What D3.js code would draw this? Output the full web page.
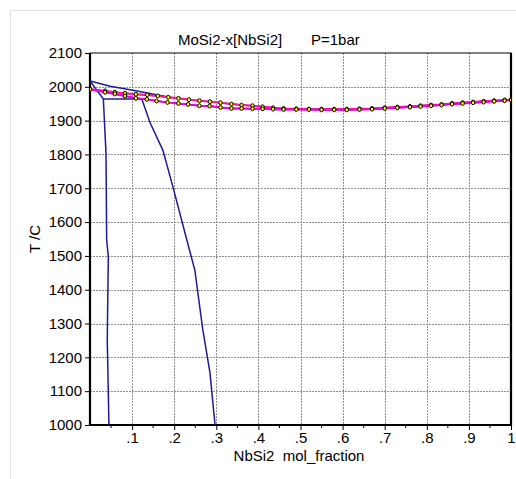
<!DOCTYPE html>
<html>
<head>
<meta charset="utf-8">
<script src="https://cdn.jsdelivr.net/npm/d3@7"></script>
<style>
  body { margin: 0; background: #fff; }
  text { font-family: "Liberation Sans", Arial, sans-serif; fill: #000; }
</style>
</head>
<body>
<div id="chart"></div>
<script>
const CHART = {
    W: 516,
    H: 479,
    LEFT: 90,
    TOP: 53,
    RIGHT: 511,
    BOTTOM: 425,
    FONT: 15
};

// axis ticks
const X_TICKS = [0.1, 0.2, 0.3, 0.4, 0.5, 0.6, 0.7, 0.8, 0.9, 1];
const X_TICK_LABELS = [".1", ".2", ".3", ".4", ".5", ".6", ".7", ".8", ".9", "1"];
const Y_TICKS = [1000, 1100, 1200, 1300, 1400, 1500, 1600, 1700, 1800, 1900, 2000, 2100];

// liquidus (upper) with markers
const LIQ_X = [0, 0.036, 0.059, 0.083, 0.109, 0.136, 0.161, 0.186, 0.21, 0.235, 0.26, 0.285, 0.31, 0.336, 0.36, 0.386, 0.41, 0.435, 0.46, 0.49, 0.52, 0.55, 0.58, 0.61, 0.64, 0.67, 0.70, 0.73, 0.76, 0.785, 0.81, 0.835, 0.86, 0.885, 0.91, 0.935, 0.96, 0.985, 1.0];
const LIQ_T = [1993, 1988, 1984, 1981, 1978, 1976, 1973, 1969, 1966, 1962, 1959, 1956, 1953, 1949, 1946, 1944, 1941, 1938, 1936, 1935, 1934, 1934, 1934, 1934, 1935, 1936, 1938, 1940, 1942, 1944, 1946, 1948, 1951, 1953, 1955, 1957, 1959, 1961, 1962];

// solidus (lower) with markers
const SOL_X = [0, 0.036, 0.059, 0.083, 0.109, 0.135, 0.158, 0.184, 0.21, 0.233, 0.26, 0.284, 0.31, 0.336, 0.36, 0.386, 0.41, 0.435, 0.46, 0.49, 0.52, 0.55, 0.58, 0.61, 0.64, 0.67, 0.70, 0.73, 0.76, 0.785, 0.81, 0.835, 0.86, 0.885, 0.91, 0.935, 0.96, 0.985, 1.0];
const SOL_T = [1993, 1984, 1979, 1973, 1966, 1963, 1958, 1954, 1951, 1948, 1944, 1943, 1939, 1936, 1936, 1935, 1935, 1934, 1933, 1933, 1933, 1932, 1932, 1932, 1933, 1934, 1936, 1938, 1940, 1942, 1944, 1946, 1949, 1951, 1953, 1955, 1957, 1959, 1961];

// blue phase boundaries
const TOP_X = [0, 0.048, 0.102, 0.186];
const TOP_T = [2017, 2002, 1990, 1970];
const LEFT_X = [0, 0.0317, 0.038, 0.0396, 0.0435, 0.041, 0.045];
const LEFT_T = [2017, 1964, 1804, 1547, 1498, 1251, 1000];
const THREE_X = [0.0317, 0.123];
const THREE_T = [1964, 1964];
const RIGHT_X = [0.123, 0.143, 0.173, 0.197, 0.230, 0.249, 0.268, 0.285, 0.297];
const RIGHT_T = [1964, 1893, 1813, 1704, 1547, 1458, 1281, 1154, 1000];

/* ---------------------------------- */
var xScale = d3.scaleLinear().domain([0, 1]).range([CHART.LEFT, CHART.RIGHT]);
var yScale = d3.scaleLinear().domain([1000, 2100]).range([CHART.BOTTOM, CHART.TOP]);

var zip = function(xs, ts){
    return xs.map((x, i) => [x, ts[i]]);
};

var line = d3.line()
             .x((d) => xScale(d[0]))
             .y((d) => yScale(d[1]));

var svg = d3.select("#chart").append("svg")
            .attr("width", CHART.W)
            .attr("height", CHART.H);

// light outer frame
svg.append("path")
   .attr("d", "M10.5," + CHART.H + "V10.5H" + CHART.W)
   .attr("fill", "none")
   .attr("stroke", "#e2e2e2")
   .attr("stroke-width", 1);

// grid
svg.append("g")
   .selectAll("line")
   .data(X_TICKS.slice(0, -1))
   .enter()
   .append("line")
   .attr("x1", (d) => Math.round(xScale(d)) + 0.5)
   .attr("x2", (d) => Math.round(xScale(d)) + 0.5)
   .attr("y1", CHART.TOP)
   .attr("y2", CHART.BOTTOM)
   .attr("stroke", "#909090")
   .attr("stroke-dasharray", "2,1");
svg.append("g")
   .selectAll("line")
   .data(Y_TICKS.slice(1, -1))
   .enter()
   .append("line")
   .attr("x1", CHART.LEFT)
   .attr("x2", CHART.RIGHT)
   .attr("y1", (d) => Math.round(yScale(d)) + 0.5)
   .attr("y2", (d) => Math.round(yScale(d)) + 0.5)
   .attr("stroke", "#909090")
   .attr("stroke-dasharray", "2,1");

// axes
var xAxis = d3.axisBottom(xScale)
              .tickValues(X_TICKS)
              .tickFormat((d, i) => X_TICK_LABELS[i])
              .tickSize(5)
              .tickSizeOuter(0);
var gx = svg.append("g")
            .attr("transform", "translate(0," + CHART.BOTTOM + ")")
            .call(xAxis);
gx.select(".domain").remove();
gx.selectAll("text").attr("font-size", CHART.FONT).attr("font-family", null).attr("y", 7);

// minor x ticks
svg.append("g")
   .selectAll("line")
   .data(X_TICKS.map((d) => d - 0.05))
   .enter()
   .append("line")
   .attr("x1", (d) => xScale(d))
   .attr("x2", (d) => xScale(d))
   .attr("y1", CHART.BOTTOM)
   .attr("y2", CHART.BOTTOM + 3)
   .attr("stroke", "#000");

var yAxis = d3.axisLeft(yScale)
              .tickValues(Y_TICKS)
              .tickFormat(d3.format("d"))
              .tickSize(5)
              .tickSizeOuter(0);
var gy = svg.append("g")
            .attr("transform", "translate(" + CHART.LEFT + ",0)")
            .call(yAxis);
gy.select(".domain").remove();
gy.selectAll("text").attr("font-size", CHART.FONT).attr("font-family", null).attr("x", -8);

// plot border
svg.append("rect")
   .attr("x", CHART.LEFT)
   .attr("y", CHART.TOP)
   .attr("width", CHART.RIGHT - CHART.LEFT)
   .attr("height", CHART.BOTTOM - CHART.TOP)
   .attr("fill", "none")
   .attr("stroke", "#000")
   .attr("stroke-width", 1);
svg.append("path")
   .attr("d", "M" + CHART.LEFT + "," + CHART.TOP + "V" + CHART.BOTTOM + "H" + CHART.RIGHT + "V" + CHART.TOP)
   .attr("fill", "none")
   .attr("stroke", "#000")
   .attr("stroke-width", 2.2);

// blue boundaries
svg.append("clipPath").attr("id", "clip")
   .append("rect")
   .attr("x", CHART.LEFT)
   .attr("y", CHART.TOP)
   .attr("width", CHART.RIGHT - CHART.LEFT)
   .attr("height", CHART.BOTTOM - CHART.TOP);
var plot = svg.append("g").attr("clip-path", "url(#clip)");

[zip(TOP_X, TOP_T), zip(LEFT_X, LEFT_T), zip(THREE_X, THREE_T), zip(RIGHT_X, RIGHT_T),
 zip(LIQ_X, LIQ_T), zip(SOL_X, SOL_T)].forEach(function(pts){
    plot.append("path")
        .attr("d", line(pts))
        .attr("fill", "none")
        .attr("stroke", "#1c1c96")
        .attr("stroke-width", 1.5);
});

// liquidus / solidus
[zip(LIQ_X, LIQ_T), zip(SOL_X, SOL_T)].forEach(function(pts, k){
    plot.append("path")
        .attr("d", line(pts))
        .attr("fill", "none")
        .attr("stroke", k == 0 ? "#ff1a8c" : "#f000e0")
        .attr("stroke-width", 2);
});
[zip(LIQ_X, LIQ_T), zip(SOL_X, SOL_T)].forEach(function(pts){
    plot.append("g")
        .selectAll("ellipse")
        .data(pts)
        .enter()
        .append("ellipse")
        .attr("cx", (d) => xScale(d[0]))
        .attr("cy", (d) => yScale(d[1]))
        .attr("rx", 1.7)
        .attr("ry", 2)
        .attr("fill", "#ffff00")
        .attr("stroke", "#000")
        .attr("stroke-width", 1);
});

// titles
svg.append("text")
   .attr("x", 178)
   .attr("y", 45)
   .attr("font-size", CHART.FONT)
   .text("MoSi2-x[NbSi2]");
svg.append("text")
   .attr("x", 311)
   .attr("y", 45)
   .attr("font-size", CHART.FONT)
   .text("P=1bar");
svg.append("text")
   .attr("x", 299)
   .attr("y", 461)
   .attr("text-anchor", "middle")
   .attr("font-size", CHART.FONT)
   .style("white-space", "pre")
   .text("NbSi2  mol_fraction");
svg.append("text")
   .attr("transform", "translate(40," + ((CHART.TOP + CHART.BOTTOM) / 2) + ") rotate(-90)")
   .attr("text-anchor", "middle")
   .attr("font-size", CHART.FONT)
   .style("white-space", "pre")
   .text("T /C");
</script>
</body>
</html>
